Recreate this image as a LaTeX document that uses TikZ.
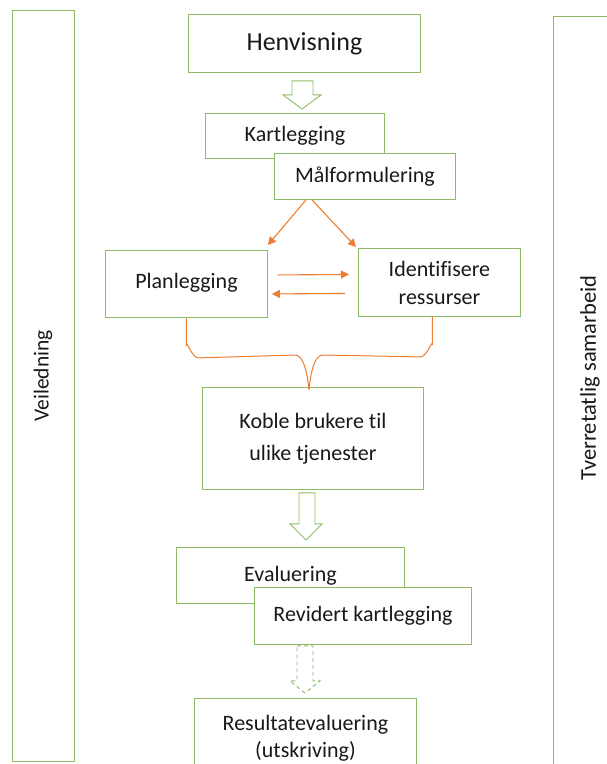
\documentclass[tikz,border=0pt]{standalone}
\usepackage{fontspec}
\setmainfont{Carlito}[Ligatures=NoCommon]
\usetikzlibrary{calc,arrows.meta}
\definecolor{boxgreen}{RGB}{141,188,104}
\definecolor{flow}{RGB}{237,125,49}
\definecolor{ink}{RGB}{25,25,25}

\begin{document}
\begin{tikzpicture}[x=1pt,y=-1pt,
  box/.style={draw=boxgreen, line width=0.9pt, fill=white, inner sep=0pt,
    anchor=north west, align=center, text=ink,
    font=\fontsize{22}{28}\selectfont},
  sidebox/.style={draw=boxgreen, line width=0.9pt, inner sep=0pt, anchor=north west},
  sidelabel/.style={rotate=90, text=ink},
  orangearrow/.style={draw=flow, line width=1.1pt, -{Triangle[length=8pt,width=8pt]}},
  bracket/.style={draw=flow, line width=1pt},
  hollow/.style={draw=boxgreen, line width=0.9pt, fill=white, line join=miter},
  hollowdash/.style={hollow, dashed, dash pattern=on 4pt off 3pt}
]
\useasboundingbox (0,0) rectangle (606,764);

% side columns
\node[sidebox, minimum width=62, minimum height=751] (guide) at (12,10) {};
\node[sidelabel, font=\fontsize{21.5}{23}\selectfont] (guidelabel) at (43,376) {Veiledning};
\node[sidebox, minimum width=80, minimum height=760] (team) at (553,16) {};
\node[sidelabel, font=\fontsize{22.5}{24}\selectfont] (teamlabel) at (590,378) {Tverretatlig samarbeid};

% process boxes
\node[box, minimum width=232, minimum height=58, font=\fontsize{26}{30}\selectfont] (hen) at (188,14) {Henvisning};
\node[box, minimum width=179, minimum height=45] (kart) at (205,113) {Kartlegging};
\node[box, minimum width=181, minimum height=46] (mal) at (274,153) {\raisebox{4pt}{Målformulering}};
\node[box, minimum width=162, minimum height=67] (plan) at (105,250) {\raisebox{6pt}{Planlegging}};
\node[box, minimum width=162, minimum height=68] (ident) at (358,248) {Identifisere\\ressurser};
\node[box, minimum width=221, minimum height=102, font=\fontsize{22}{32}\selectfont] (koble) at (202,387) {\raisebox{-3pt}{\begin{tabular}{@{}c@{}}Koble brukere til\\ulike tjenester\end{tabular}}};
\node[box, minimum width=228, minimum height=56] (eval) at (176,547) {\raisebox{-2pt}{Evaluering}};
\node[box, minimum width=217, minimum height=57] (rev) at (254,587) {Revidert kartlegging};
\node[box, minimum width=222, minimum height=80, font=\fontsize{22}{27}\selectfont] (res) at (194,698) {Resultatevaluering\\(utskriving)};

% hollow block arrows
\draw[hollow] let \p1=(hen.south), \p2=(kart.north) in
  (292,\y1-8) -- (313,\y1-8) -- (313,\y1-22) -- (321,\y1-22) -- (302,\y2+4)
  -- (283,\y1-22) -- (292,\y1-22) -- cycle;
\draw[hollow] let \p1=(koble.south), \p2=(eval.north) in
  (299,\y1-3) -- (315,\y1-3) -- (315,\y1-34) -- (322,\y1-34) -- (306,\y2+7)
  -- (290,\y1-34) -- (299,\y1-34) -- cycle;
\draw[hollowdash] let \p1=(rev.south), \p2=(res.north) in
  (297,\y1-1) -- (313,\y1-1) -- (313,\y1-36) -- (320,\y1-36) -- (305,\y2+5)
  -- (290,\y1-36) -- (297,\y1-36) -- cycle;

% orange flow
\coordinate (split) at ($(mal.south west)+(35,0)$);
\draw[orangearrow] ($(split)+(-3,0)$) -- ($(plan.north east)+(0,-5)$);
\draw[orangearrow] ($(split)+(3,0)$) -- ($(ident.north west)+(-2,-1)$);
\draw[orangearrow] ($(plan.east)+(10,-9)$) -- ($(ident.west)+(-9,-8)$);
\draw[orangearrow] ($(ident.west)+(-13,11)$) -- ($(plan.east)+(4,10)$);

% brace gathering both branches into one step
\coordinate (bl) at (plan.south);
\coordinate (br) at ($(ident.south)+(-7,0)$);
\coordinate (bc) at ($(koble.north)+(-4,0)$);
\draw[bracket] (bl) -- ($(bl)+(0,28)$) to[out=90,in=180] ($(bl)+(12,40)$)
  -- ($(bc)+(-14,-32)$) to[out=0,in=-90] (bc);
\draw[bracket] (br) -- ($(br)+(0,28)$) to[out=90,in=0] ($(br)+(-12,40)$)
  -- ($(bc)+(14,-32)$) to[out=180,in=-90] (bc);
\end{tikzpicture}
\end{document}
